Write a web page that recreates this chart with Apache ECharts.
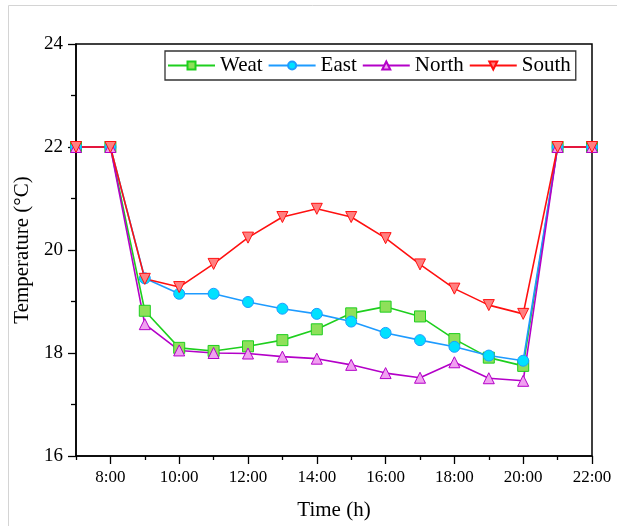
<!DOCTYPE html>
<html>
<head>
<meta charset="utf-8">
<script src="https://cdn.jsdelivr.net/npm/echarts@6/dist/echarts.min.js"></script>
<style>html,body{margin:0;padding:0;background:#fff;overflow:hidden;width:617px;height:526px;}#c{position:fixed;left:0;top:0;width:617px;height:526px;}</style>
</head>
<body>
<div id="c"></div>
<script>
const hours = [7,8,9,10,11,12,13,14,15,16,17,18,19,20,21,22];
const weat  = [22,22,18.82,18.10,18.04,18.13,18.25,18.46,18.77,18.90,18.71,18.27,17.91,17.75,22,22];
const east  = [22,22,19.45,19.15,19.15,18.99,18.86,18.76,18.61,18.39,18.25,18.12,17.95,17.85,22,22];
const north = [22,22,18.56,18.05,18.00,17.99,17.93,17.89,17.77,17.61,17.52,17.82,17.51,17.46,22,22];
const south = [22,22,19.44,19.28,19.73,20.24,20.64,20.80,20.64,20.23,19.72,19.25,18.93,18.76,22,22];
const seriesNames = ['Weat','East','North','South'];
const xMajorTicks = [8,10,12,14,16,18,20,22];
const xMinorTicks = [7,9,11,13,15,17,19,21];
const xTickLabels = ['8:00','10:00','12:00','14:00','16:00','18:00','20:00','22:00'];
const yMajorTicks = [16,18,20,22,24];
const yMinorTicks = [17,19,21,23];
const yTickLabels = ['16','18','20','22','24'];

const font = 'Liberation Serif';
const pair = arr => hours.map((h,i)=>[h,arr[i]]);
function mk(name, data, line, fill, symbol, rotate){
  return {
    name, type:'line', data: pair(data), symbol, symbolSize: 11, symbolRotate: rotate||0,
    lineStyle:{color:line,width:1.6}, itemStyle:{color:fill,borderColor:line,borderWidth:1},
    emphasis:{disabled:true}, z: 2
  };
}
const xLab = v => { const i = xMajorTicks.indexOf(v); return i >= 0 ? xTickLabels[i] : ''; };
const yLab = v => { const i = yMajorTicks.indexOf(v); return i >= 0 ? yTickLabels[i] : ''; };

const chart = echarts.init(document.getElementById('c'), null, {renderer:'canvas', width:617, height:526});
chart.setOption({
  animation:false,
  backgroundColor:'#fff',
  textStyle:{fontFamily:font},
  graphic:[
    {type:'line', shape:{x1:8.5,y1:5.5,x2:617,y2:5.5}, style:{stroke:'#d4d4d4',lineWidth:1}},
    {type:'line', shape:{x1:8.5,y1:5.5,x2:8.5,y2:526}, style:{stroke:'#d4d4d4',lineWidth:1}}
  ],
  grid:{left:76,right:25,top:44,height:417,show:true,borderColor:'#000',borderWidth:1.5},
  legend:{
    data:seriesNames, left:165, top:51, orient:'horizontal',
    borderColor:'#333', borderWidth:1.3, padding:[4,5,4,2], itemGap:5,
    itemWidth:47, itemHeight:10,
    textStyle:{fontFamily:font,fontSize:21,color:'#000'}
  },
  xAxis:[{
    type:'value', min:7, max:22,
    name:'Time (h)', nameLocation:'middle', nameGap:44,
    nameTextStyle:{fontFamily:font,fontSize:21,color:'#000'},
    axisLine:{lineStyle:{color:'#000',width:1.5}},
    axisTick:{show:true,inside:false,length:8,customValues:xMajorTicks,lineStyle:{color:'#000',width:1.3}},
    axisLabel:{fontFamily:font,fontSize:17,color:'#000',margin:13,customValues:xMajorTicks,formatter:xLab},
    splitLine:{show:false}
  },{
    type:'value', min:7, max:22, position:'bottom',
    axisLine:{show:false},
    axisTick:{show:true,inside:false,length:4,customValues:xMinorTicks,lineStyle:{color:'#000',width:1.3}},
    axisLabel:{show:false},
    splitLine:{show:false}
  }],
  yAxis:[{
    type:'value', min:16, max:24,
    name:'Temperature (°C)', nameLocation:'middle', nameGap:42,
    nameTextStyle:{fontFamily:font,fontSize:21,color:'#000'},
    axisLine:{show:true,lineStyle:{color:'#000',width:1.5}},
    axisTick:{show:true,inside:false,length:8,customValues:yMajorTicks,lineStyle:{color:'#000',width:1.3}},
    axisLabel:{fontFamily:font,fontSize:19,color:'#000',margin:13,customValues:yMajorTicks,formatter:yLab},
    splitLine:{show:false}
  },{
    type:'value', min:16, max:24, position:'left',
    axisLine:{show:false},
    axisTick:{show:true,inside:false,length:5,customValues:yMinorTicks,lineStyle:{color:'#000',width:1.3}},
    axisLabel:{show:false},
    splitLine:{show:false}
  }],
  series:[
    mk(seriesNames[0], weat, '#1ecf1e', '#8ee05a', 'rect'),
    mk(seriesNames[1], east, '#1e9bff', '#00e1ff', 'circle'),
    mk(seriesNames[2], north, '#b400c8', '#f0a0f0', 'triangle'),
    mk(seriesNames[3], south, '#ff1010', '#ff8080', 'triangle', 180)
  ]
});
</script>
</body>
</html>
